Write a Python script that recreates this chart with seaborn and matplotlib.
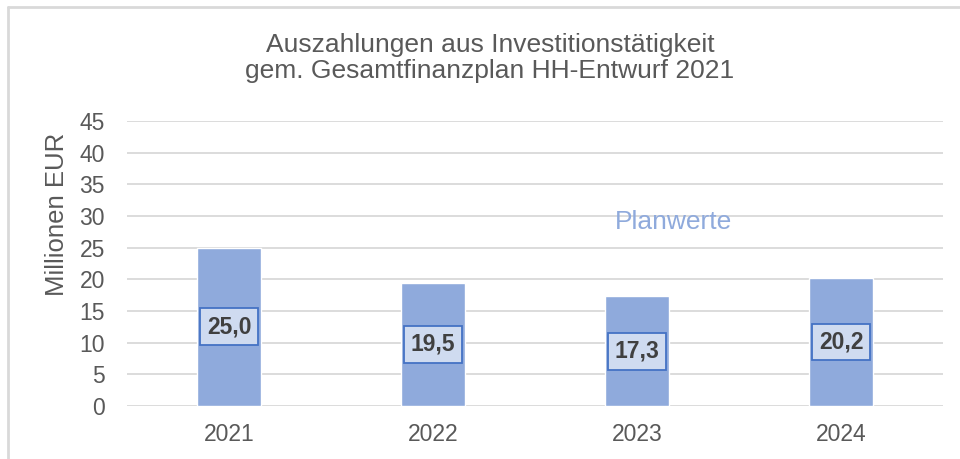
import pandas as pd
import matplotlib.pyplot as plt
import seaborn as sns
from matplotlib.lines import Line2D

years = ["2021", "2022", "2023", "2024"]
values = [25.0, 19.5, 17.3, 20.2]
title = "Auszahlungen aus Investitionstätigkeit\ngem. Gesamtfinanzplan HH-Entwurf 2021"

df = pd.DataFrame({"Jahr": years, "Wert": values})

sns.set_theme(style="white")
plt.rcParams["font.family"] = ["Liberation Sans", "DejaVu Sans"]

fig = plt.figure(figsize=(9.6, 4.59), dpi=100)
ax = fig.add_axes([127 / 960, 1 - 406 / 459, 816 / 960, 285 / 459])

sns.barplot(data=df, x="Jahr", y="Wert", color="#8faadc", width=0.315,
            saturation=1, ax=ax, zorder=2)

ax.set_ylim(0, 45)
ax.set_xlim(-0.5, 3.5)
ax.set_yticks(range(0, 50, 5))
ax.yaxis.grid(True, color="#d9d9d9", linewidth=1.3, zorder=0)
ax.set_axisbelow(True)
for s in ax.spines.values():
    s.set_visible(False)
ax.tick_params(axis="both", length=0, labelsize=16.5, labelcolor="#595959")
ax.tick_params(axis="y", pad=16)
ax.tick_params(axis="x", pad=12)
ax.set_xlabel("")
ax.set_ylabel("Millionen EUR", fontsize=18.5, color="#595959")
ax.yaxis.set_label_coords(-0.071, 0.674)

ax.bar_label(ax.containers[0], labels=[f"{v:.1f}".replace(".", ",") for v in values],
             label_type="center", fontsize=16.5, fontweight="bold", color="#404040",
             bbox=dict(boxstyle="square,pad=0.3", facecolor="#cfdbf0",
                       edgecolor="#4472c4", linewidth=1.3))

ax.text(2.18, 29.0, "Planwerte", fontsize=19, color="#8faadc", ha="center", va="center")

fig.suptitle(title, x=490 / 960, y=1 - 58 / 459, va="center", fontsize=19,
             color="#595959", linespacing=1.15)

# Rahmen (abgeschnitten)
fig.add_artist(Line2D([8 / 960, 8 / 960], [0, 1 - 7 / 459], color="#d9d9d9", linewidth=2))
fig.add_artist(Line2D([8 / 960, 1], [1 - 7 / 459, 1 - 7 / 459], color="#d9d9d9", linewidth=2))

plt.savefig("out.png", dpi=100)
